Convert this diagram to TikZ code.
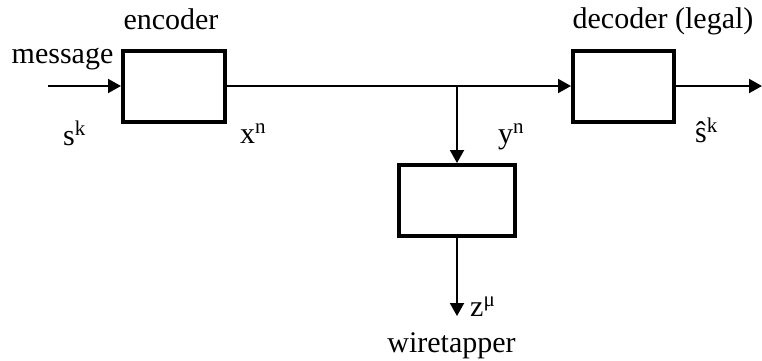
\documentclass[tikz,border=0pt]{standalone}
\usepackage{fontspec}
\setmainfont{Liberation Serif}
\usetikzlibrary{arrows.meta}
\tikzset{
  blk/.style={draw, line width=4pt, minimum width=102pt, minimum height=71pt, inner sep=0pt},
  lbl/.style={inner sep=0pt, font=\fontsize{30}{36}\selectfont},
  conn/.style={line width=2pt, -{Triangle[length=13pt,width=14pt]}},
}
\begin{document}
\begin{tikzpicture}[x=1pt,y=-1pt]
\useasboundingbox (0,0) rectangle (762,360);
% blocks
\node[blk] (enc) at (174,86) {};
\node[blk, minimum width=101pt] (dec) at (623.5,86) {};
\node[blk, minimum width=116pt] (wt) at (457,200.5) {};
% coordinates
\coordinate (in) at (48,86);
\coordinate (tap) at (457,86);
\coordinate (out) at (762,86);
\coordinate (zend) at (457,316);
% connectors
\draw[conn] (in) -- (enc.west);
\draw[conn] (enc.east) -- (dec.west);
\draw[conn] (tap) -- (wt.north);
\draw[conn] (dec.east) -- (out);
\draw[conn] (wt.south) -- (zend);
% labels
\node[lbl, anchor=base] (tenc) at (171,29) {encoder};
\node[lbl, anchor=base] (tmsg) at (62.5,63) {message};
\node[lbl, anchor=base west] (tsk) at (63,145) {s\textsuperscript{k}};
\node[lbl, anchor=base west] (txn) at (240,143) {x\textsuperscript{n}};
\node[lbl, anchor=base west] (tyn) at (498,143) {y\textsuperscript{n}};
\node[lbl, anchor=base west] (tshat) at (695,142) {ŝ\textsuperscript{k}};
\node[lbl, anchor=base] (tdec) at (663,28) {decoder (legal)};
\node[lbl, anchor=base west] (tz) at (470,316) {z\textsuperscript{μ}};
\node[lbl, anchor=base] (twt) at (451.5,352) {wiretapper};
\end{tikzpicture}
\end{document}
